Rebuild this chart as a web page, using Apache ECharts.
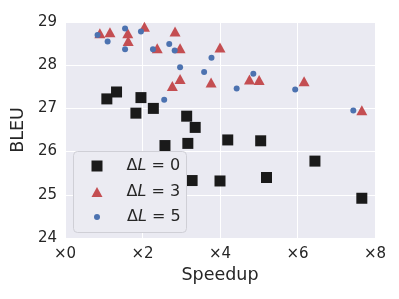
<!DOCTYPE html>
<html><head><meta charset="utf-8">
<script src="https://cdn.jsdelivr.net/npm/echarts@6/dist/echarts.min.js"></script>
<style>html,body{margin:0;padding:0;background:#fff}#c{width:399px;height:299px}</style>
</head><body><div id="c"></div>
<script>
var seriesNames = ['ΔL = 0', 'ΔL = 3', 'ΔL = 5'];
var xTicks = [0, 2, 4, 6, 8];
var yTicks = [24, 25, 26, 27, 28, 29];
var speedup0 = [1.08,1.33,1.83,1.96,2.28,2.58,3.14,3.17,3.28,3.36,4.00,4.20,5.05,5.20,6.45,7.66];
var bleu0    = [27.22,27.38,26.89,27.25,27.00,26.14,26.82,26.19,25.33,26.56,25.32,26.27,26.25,25.40,25.78,24.92];
var speedup3 = [0.90,1.16,1.62,1.63,2.05,2.38,2.77,2.84,2.97,2.97,3.77,4.00,4.76,5.01,6.17,7.66];
var bleu3    = [28.74,28.76,28.74,28.56,28.89,28.39,27.52,28.78,28.39,27.68,27.60,28.41,27.67,27.66,27.63,26.96];
var speedup5 = [0.84,1.10,1.55,1.55,1.96,2.27,2.56,2.69,2.83,2.97,3.59,3.78,4.43,4.86,5.94,7.44];
var bleu5    = [28.70,28.55,28.85,28.37,28.78,28.37,27.20,28.49,28.34,27.95,27.84,28.17,27.46,27.80,27.44,26.95];

function pairs(xs, ys){ return xs.map(function(x,i){ return [x, ys[i]]; }); }
var FONT = 'DejaVu Sans';
var TXT = '#262626';
function mkLegend(name, w, h, top, pad){
  var rich = {
    d: {fontFamily: FONT, fontSize: 16, color: TXT, padding: [0, 0, 0, pad]},
    u: {fontFamily: FONT, fontSize: 16, color: TXT},
    i: {fontFamily: FONT, fontSize: 16, color: TXT, fontStyle: 'italic'}
  };
  return {
    data: [name], orient: 'vertical', left: 97 - w / 2, top: top, padding: 0,
    itemWidth: w, itemHeight: h,
    formatter: function(n){ return '{d|Δ}{i|L}{u|' + n.slice(2) + '}'; },
    textStyle: {rich: rich, fontSize: 16, fontFamily: FONT},
    selectedMode: false, z: 10
  };
}

var chart = echarts.init(document.getElementById('c'), null, {renderer: 'canvas'});
chart.setOption({
  animation: false,
  backgroundColor: '#ffffff',
  grid: {left: 65, right: 24, top: 22, bottom: 61, show: true, backgroundColor: '#eaeaf2', borderWidth: 0, containLabel: false},
  xAxis: {
    type: 'value', min: xTicks[0], max: xTicks[xTicks.length-1], interval: 2,
    name: 'Speedup', nameLocation: 'middle', nameGap: 28,
    nameTextStyle: {fontFamily: FONT, fontSize: 17.5, color: TXT},
    axisLine: {show: false}, axisTick: {show: false},
    axisLabel: {fontFamily: FONT, fontSize: 15, color: TXT, margin: 9, formatter: function(v){ return '×' + v; }},
    splitLine: {show: true, lineStyle: {color: '#ffffff', width: 1}}
  },
  yAxis: {
    type: 'value', min: yTicks[0], max: yTicks[yTicks.length-1], interval: 1,
    name: 'BLEU', nameLocation: 'middle', nameGap: 32,
    nameTextStyle: {fontFamily: FONT, fontSize: 17.5, color: TXT},
    axisLine: {show: false}, axisTick: {show: false},
    axisLabel: {fontFamily: FONT, fontSize: 15, color: TXT, margin: 8},
    splitLine: {show: true, lineStyle: {color: '#ffffff', width: 1}}
  },
  legend: [
    mkLegend(seriesNames[0], 11, 11, 158, 19),
    mkLegend(seriesNames[1], 11, 10, 184, 19),
    mkLegend(seriesNames[2], 6, 6, 209, 22)
  ],
  graphic: [{
    type: 'rect', z: 5, left: 73, top: 151,
    shape: {width: 113, height: 81, r: 4},
    style: {fill: '#ebebf2', stroke: '#cfcfd6', lineWidth: 1}
  }],
  series: [
    {name: seriesNames[0], type: 'scatter', symbol: 'rect', symbolSize: 11, data: pairs(speedup0, bleu0),
     itemStyle: {color: '#1a1a1a', opacity: 1}},
    {name: seriesNames[1], type: 'scatter', symbol: 'triangle', symbolSize: [11, 10], data: pairs(speedup3, bleu3),
     itemStyle: {color: '#c44e52', opacity: 1}},
    {name: seriesNames[2], type: 'scatter', symbol: 'circle', symbolSize: 6, data: pairs(speedup5, bleu5),
     itemStyle: {color: '#4c72b0', opacity: 1}}
  ]
});
</script></body></html>
